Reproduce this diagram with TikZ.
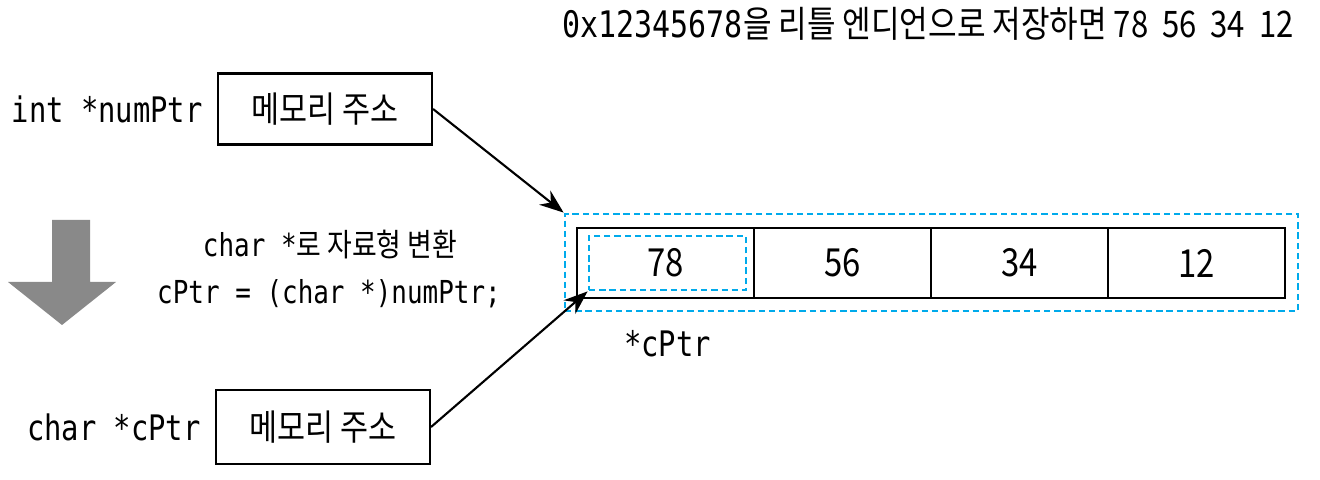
\documentclass[tikz,border=0pt]{standalone}
\usepackage{fontspec}
\setmainfont{Noto Sans CJK KR}[FakeStretch=0.85]
\newfontfamily\codefont{DejaVu Sans Mono}[FakeStretch=0.82]
\usetikzlibrary{arrows.meta,positioning}
\definecolor{dashblue}{RGB}{0,170,235}
\definecolor{arrowgray}{RGB}{137,137,137}

\begin{document}
\begin{tikzpicture}[addr/.style={draw, semithick, minimum width=2.14cm, minimum height=0.71cm, font=\fontsize{10.2}{12}\selectfont},
	cell/.style={draw, semithick, minimum width=1.77cm, minimum height=0.70cm, font=\fontsize{11}{13}\selectfont},
	blue dash/.style={draw=dashblue, dash pattern=on 1.8pt off 1.1pt, thick},
	code/.style={font=\codefont\fontsize{10}{12}\selectfont},
	point/.style={-{Stealth[length=2.4mm,width=1.8mm]}, semithick}]
		\useasboundingbox (0,0) rectangle (13.2,-4.8);
		
		\node[anchor=east, font=\fontsize{10.4}{12}\selectfont] (title) at (13.06,-0.24) {{\codefont 0x12345678}을 리틀 엔디언으로 저장하면 78~~56~~34~~12};
		
		\node[addr] (numbox) at (3.25,-1.09) {메모리 주소};
		\node[code, left=0.02cm of numbox] (numname) {int *numPtr};
		\node[addr, minimum height=0.74cm] (cbox) at (3.23,-4.27) {메모리 주소};
		\node[code, left=0.02cm of cbox] (cname) {char *cPtr};
		
		% conversion step
		\fill[arrowgray] (0.52,-2.20) -- (0.90,-2.20) -- (0.90,-2.82) -- (1.16,-2.82) -- (0.62,-3.25) -- (0.08,-2.82) -- (0.52,-2.82) -- cycle;
		\node[font=\fontsize{9}{11}\selectfont] (cast1) at (3.30,-2.45) {{\codefont char *}로 자료형 변환};
		\node[code, font=\codefont\fontsize{9}{11}\selectfont] (cast2) at (3.29,-2.94) {cPtr = (char *)numPtr;};
		
		% memory bytes
		\foreach \v [count=\i] in {78,56,34,12}
			\node[cell] (c\i) at ({6.655+(\i-1)*1.77},-2.63) {\v};
		\node[blue dash, minimum width=7.33cm, minimum height=0.97cm] (block) at (9.315,-2.625) {};
		\node[blue dash, minimum width=1.57cm, minimum height=0.54cm] (first) at (6.675,-2.63) {};
		\node[code, below=0.27cm of first] (deref) {*cPtr};
		
		\draw[point] (numbox.east) -- (block.north west);
		\draw[point] (cbox.east) -- (first.south west);
	\end{tikzpicture}
\end{document}
